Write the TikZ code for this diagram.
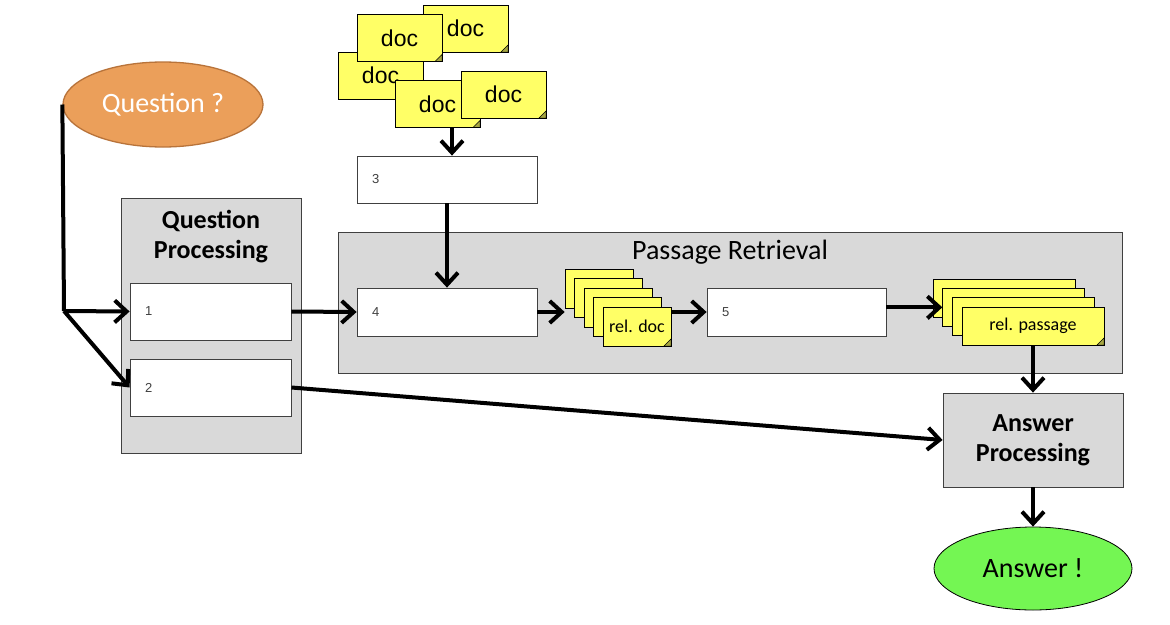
\documentclass[tikz,border=0pt]{standalone}
\usepackage{fontspec}
\setmainfont{Carlito}
\newfontfamily\arialfont{Liberation Sans}
\usetikzlibrary{shapes.geometric,arrows.meta,positioning,calc}

\definecolor{qorange}{HTML}{EB9F5A}
\definecolor{qborder}{HTML}{B8733A}
\definecolor{agreen}{HTML}{74F653}
\definecolor{boxgray}{HTML}{D9D9D9}
\definecolor{noteyellow}{HTML}{FFFF66}

\begin{document}
\begin{tikzpicture}[x=1pt, y=-1pt,
    arr/.style={line width=4pt, -{Straight Barb[length=12pt,width=22pt]}},
    container/.style={rectangle, draw=black!75, fill=boxgray, line width=0.8pt, inner sep=0pt},
    stage/.style={rectangle, draw=black!75, fill=white, line width=0.8pt, inner sep=0pt},
    num/.style={font=\arialfont\fontsize{13}{15}\selectfont, text=black!75, anchor=west},
    heading/.style={font=\bfseries\fontsize{26}{30}\selectfont, align=center},
    bubble/.style={ellipse, inner sep=0pt, font=\fontsize{28}{32}\selectfont},
    note/.style={rectangle, draw=black, line width=0.7pt, fill=noteyellow, inner sep=0pt,
        path picture={
            \coordinate (corner) at (path picture bounding box.south east);
            \filldraw[fill=noteyellow!65!black, line width=0.5pt]
                (corner) -- ([xshift=-7pt]corner) -- ([yshift=7pt]corner) -- cycle;
        }},
    doc/.style={note, minimum width=85pt, minimum height=47pt, font=\arialfont\fontsize{23}{25}\selectfont},
    reldoc/.style={note, minimum width=68pt, minimum height=39pt, font=\fontsize{18}{20}\selectfont},
    relpassage/.style={note, minimum width=142pt, minimum height=38pt, font=\fontsize{18}{20}\selectfont}
]
\useasboundingbox (0,0) rectangle (1170,624);

% Question
\node[bubble, draw=qborder, line width=1.3pt, fill=qorange, text=white,
      minimum width=200pt, minimum height=85pt] (question) at (163,104.5) {Question ?};
\coordinate (split) at (64,311);

% Question Processing
\node[container, minimum width=180pt, minimum height=255pt] (qp) at (211,325.5) {};
\node[heading] (qptitle) at (211,237) {Question\\Processing};
\node[stage, minimum width=161pt, minimum height=57pt] (box1) at (210.5,311.5) {};
\node[num] (n1) at ([xshift=12pt]box1.west) {1};
\node[stage, minimum width=161pt, minimum height=57pt] (box2) at (210.5,387.5) {};
\node[num] (n2) at ([xshift=12pt]box2.west) {2};

% Documents
\node[doc] (docA) at (465.5,28.5) {doc};
\node[doc] (docC) at (380.5,75.5) {doc};
\node[doc] (docB) at (399.5,38) {doc};
\node[doc] (docD) at (437.5,104) {doc};
\node[doc] (docE) at (503.5,94.5) {doc};
\coordinate (docsout) at ($(docD.south)+(14.5,0)$);

\node[stage, minimum width=180pt, minimum height=47pt] (box3) at (447,179.5) {};
\node[num] (n3) at ([xshift=12pt]box3.west) {3};

% Passage Retrieval
\node[container, minimum width=784pt, minimum height=141pt] (pr) at (730,302.5) {};
\node[font=\fontsize{28}{32}\selectfont] (prtitle) at (730,252) {Passage Retrieval};
\node[stage, minimum width=180pt, minimum height=48pt] (box4) at (447,312) {};
\node[num] (n4) at ([xshift=12pt]box4.west) {4};
\foreach \i in {0,...,3} {
    \node[reldoc] (rel\i) at (599+9.5*\i, 288.5+9.5*\i) {};
}
\node[reldoc] (rel4) at (637,326.5) {rel. doc};
\node[stage, minimum width=179pt, minimum height=48pt] (box5) at (796.5,312) {};
\node[num] (n5) at ([xshift=12pt]box5.west) {5};
\foreach \i in {0,...,2} {
    \node[relpassage] (pas\i) at (1004+9.67*\i, 298+9.33*\i) {};
}
\node[relpassage] (pas3) at (1033,326) {rel. passage};

% Answer Processing
\node[container, minimum width=180pt, minimum height=94pt] (ap) at (1033,440) {};
\node[heading] (aptitle) at (1033,440) {Answer\\Processing};
\node[bubble, draw=black, line width=0.8pt, fill=agreen,
      minimum width=198pt, minimum height=83pt] (answer) at (1033,568.5) {Answer !};

% Connectors
\draw[line width=4pt] (question.west) -- (split);
\draw[arr] (split) -- (box1.west);
\draw[arr] (split) -- (box2.west);
\draw[arr] (docsout) -- (docsout |- box3.north);
\draw[arr] (box3.south) -- (box4.north);
\draw[arr] (box1.east) -- (box4.west);
\draw[arr] (box4.east) -- (box4.east -| rel0.west);
\draw[arr] (rel4.east |- box5.west) -- (box5.west);
\draw[arr] (box5.east |- pas1.west) -- (pas1.west);
\draw[arr] (pas3.south) -- (ap.north);
\draw[arr] (box2.east) -- (ap.west);
\draw[arr] (ap.south) -- (answer.north);

\end{tikzpicture}
\end{document}
